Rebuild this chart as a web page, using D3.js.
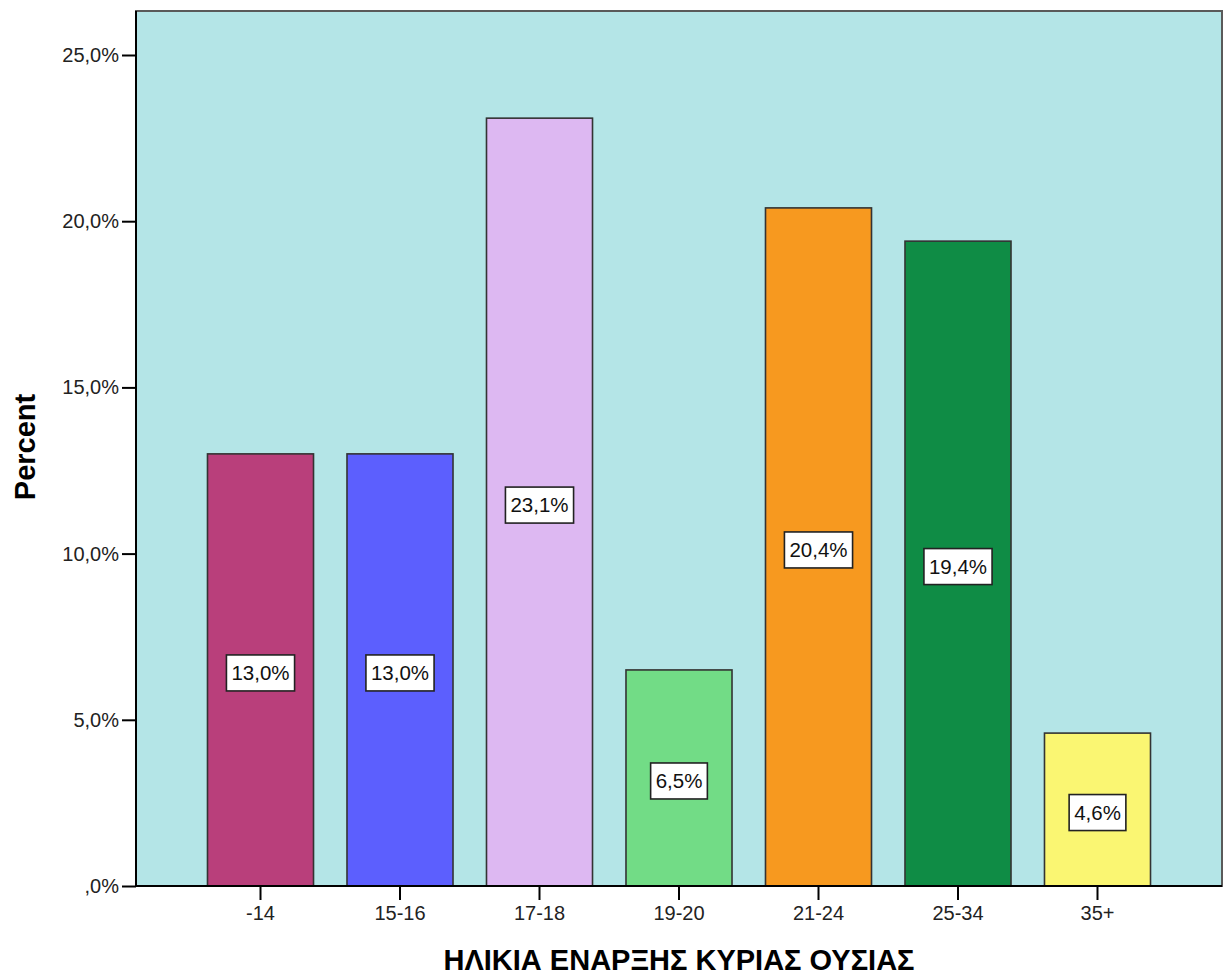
<!DOCTYPE html>
<html><head><meta charset="utf-8">
<script src="https://cdn.jsdelivr.net/npm/d3@7"></script>
<style>body{margin:0;background:#fff;} text{font-family:Arial,"Liberation Sans",sans-serif;}</style>
</head><body>
<svg id="c" width="1229" height="976"></svg>
<script>
const categories = ["-14","15-16","17-18","19-20","21-24","25-34","35+"];
const values = [13.0, 13.0, 23.1, 6.5, 20.4, 19.4, 4.6];
const colors = ["#b93f7b","#5c5ffe","#ddb8f2","#72dc86","#f7991f","#0f8c45","#faf672"];
const yTicks = [0,5,10,15,20,25];
const xTitle = "ΗΛΙΚΙΑ ΕΝΑΡΞΗΣ ΚΥΡΙΑΣ ΟΥΣΙΑΣ";
const yTitle = "Percent";

const svg = d3.select("#c");
const L=136, R=1222, T=11, B=886;
const fmt = v => { const s = v.toFixed(1).replace(".", ","); return (s.startsWith("0,") ? s.slice(1) : s) + "%"; };

const x = d3.scaleBand().domain(categories).range([L,R]).paddingInner(0.24).paddingOuter(0.5125);
const y = d3.scaleLinear().domain([0,25]).range([B,55]);

svg.append("rect").attr("x",L).attr("y",T).attr("width",R-L).attr("height",B-T)
  .attr("fill","#b4e5e7").attr("stroke","#5a5a5a").attr("stroke-width",2);

svg.selectAll("rect.bar").data(values).join("rect").attr("class","bar")
  .attr("x",(d,i)=>x(categories[i])).attr("width",x.bandwidth())
  .attr("y",d=>y(d)).attr("height",d=>B-y(d))
  .attr("fill",(d,i)=>colors[i]).attr("stroke","#333").attr("stroke-width",1.6);

const lab = svg.selectAll("g.lab").data(values).join("g").attr("class","lab")
  .attr("transform",(d,i)=>`translate(${x(categories[i])+x.bandwidth()/2},${(y(d)+B)/2+3})`);
lab.append("text").attr("text-anchor","middle").attr("dy","0.35em").attr("font-size",20.5).attr("fill","#111")
  .text(d=>fmt(d));
lab.each(function(){
  const g=d3.select(this); const bb=g.select("text").node().getBBox();
  const w=bb.width+10, h=36;
  g.insert("rect","text").attr("x",-w/2).attr("y",-h/2).attr("width",w).attr("height",h)
   .attr("fill","#fff").attr("stroke","#222").attr("stroke-width",1.6);
});

const yAxis = svg.append("g").attr("transform",`translate(${L},0)`)
  .call(d3.axisLeft(y).tickValues(yTicks).tickFormat(fmt).tickSize(14).tickPadding(3));
const xAxis = svg.append("g").attr("transform",`translate(0,${B})`)
  .call(d3.axisBottom(x).tickSize(14).tickPadding(6));
[yAxis,xAxis].forEach(a=>{
  a.select(".domain").attr("stroke","#000").attr("stroke-width",2);
  a.selectAll(".tick line").attr("stroke","#000").attr("stroke-width",2);
  a.selectAll(".tick text").attr("font-size",20).attr("fill","#222").attr("font-family","Arial,'Liberation Sans',sans-serif");
});
yAxis.select(".domain").attr("d",`M0,${T}V${B}`);
xAxis.select(".domain").attr("d",`M${L},0H${R}`);

svg.append("text").attr("x",679).attr("y",970).attr("text-anchor","middle")
  .attr("font-size",29).attr("font-weight","bold").attr("fill","#000").text(xTitle);
svg.append("text").attr("transform","translate(35,447) rotate(-90)").attr("text-anchor","middle")
  .attr("font-size",29).attr("font-weight","bold").attr("fill","#000").text(yTitle);
</script>
</body></html>
